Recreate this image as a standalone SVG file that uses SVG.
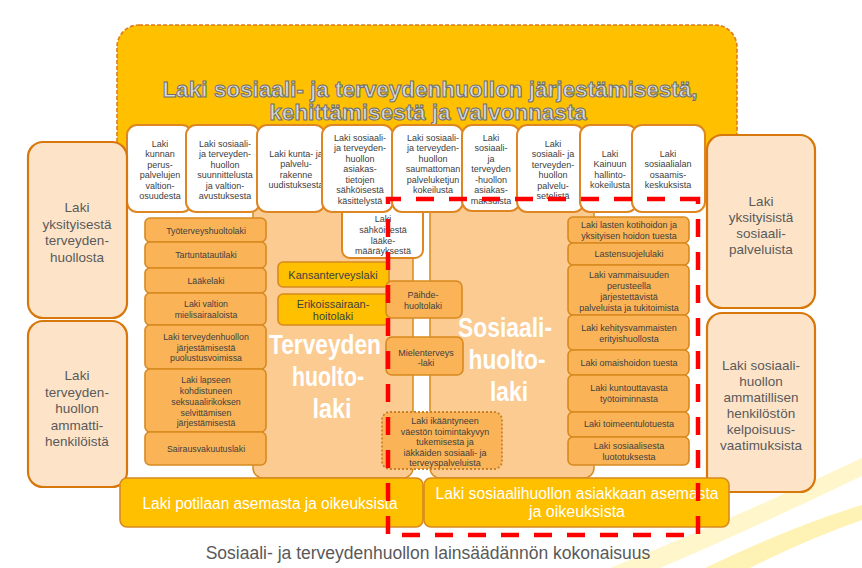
<svg xmlns="http://www.w3.org/2000/svg" width="862" height="568" viewBox="0 0 862 568">
<style>
text{font-family:"Liberation Sans",Arial,sans-serif;text-anchor:middle}
.wb{fill:#fff;stroke:#DE8722;stroke-width:2}
.sb{fill:#FDE4C9;stroke:#D6780C;stroke-width:2.2}
.pb{fill:#FBCB92;stroke:#D8891F;stroke-width:1.5}
.lb{fill:#FAB457;stroke:#D8891F;stroke-width:1.6}
.yb{fill:#FFC000;stroke:#D8891F;stroke-width:1.6}
.t9{font-size:9px;fill:#404040}
.tl{font-size:8.8px;fill:#404040}
.ts{font-size:13.5px;fill:#5A5A5A}
.big{font-size:27.5px;font-weight:bold;fill:#fff}
.yt{font-size:16px;fill:#fff}
.title{font-size:22.5px;font-weight:bold;fill:#DADADA;stroke:#6E6E6E;stroke-width:1}
</style>
<rect width="862" height="568" fill="#fff"/>
<g id="swoosh">
<path d="M610,568 Q730,520 862,458 L862,476 Q745,532 660,568 Z" fill="#FFF6CC"/>
<path d="M705,568 Q795,525 862,505 L862,520 Q805,540 750,568 Z" fill="#FFF2B5"/>
</g>
<g id="main">
<rect x="117" y="25" width="620" height="175" rx="22" fill="#FFC000" stroke="#E07B1A" stroke-width="1.6" stroke-dasharray="4 2"/>
<text class="title" x="430" y="97">Laki sosiaali- ja terveydenhuollon järjestämisestä,</text>
<text class="title" x="428" y="120">kehittämisestä ja valvonnasta</text>
</g>
<g id="terveydenhuoltolaki">
<rect class="pb" x="253" y="200" width="160" height="278" rx="10"/>
<text class="big" x="325" y="354" font-size="26" textLength="112" lengthAdjust="spacingAndGlyphs">Terveyden</text>
<text class="big" x="328" y="386" textLength="72" lengthAdjust="spacingAndGlyphs">huolto-</text>
<text class="big" x="332" y="418" textLength="39" lengthAdjust="spacingAndGlyphs">laki</text>
</g>
<g id="sosiaalihuoltolaki">
<rect class="pb" x="430" y="200" width="164" height="278" rx="10"/>
<text class="big" x="505" y="337" textLength="94" lengthAdjust="spacingAndGlyphs">Sosiaali-</text>
<text class="big" x="507" y="369" textLength="77" lengthAdjust="spacingAndGlyphs">huolto-</text>
<text class="big" x="509" y="401" textLength="38" lengthAdjust="spacingAndGlyphs">laki</text>
</g>
<g id="laakemaarays">
<rect class="wb" x="342" y="205" width="81" height="53" rx="8"/>
<text class="t9" x="383" y="222">Laki</text>
<text class="t9" x="383" y="233">sähköisestä</text>
<text class="t9" x="383" y="244">lääke-</text>
<text class="t9" x="383" y="254">määräyksestä</text>
</g>
<g id="row">
<g id="w1"><rect class="wb" x="127" y="125" width="65" height="87" rx="10"/>
<text class="t9" x="160" y="146.5">Laki</text><text class="t9" x="160" y="157">kunnan</text><text class="t9" x="160" y="167.5">perus-</text><text class="t9" x="160" y="178">palvelujen</text><text class="t9" x="160" y="188.5">valtion-</text><text class="t9" x="160" y="199">osuudesta</text></g>
<g id="w2"><rect class="wb" x="186" y="125" width="74" height="87" rx="10"/>
<text class="t9" x="225" y="146.5">Laki sosiaali-</text><text class="t9" x="225" y="157">ja terveyden-</text><text class="t9" x="225" y="167.5">huollon</text><text class="t9" x="225" y="178">suunnittelusta</text><text class="t9" x="225" y="188.5">ja valtion-</text><text class="t9" x="225" y="199">avustuksesta</text></g>
<g id="w3"><rect class="wb" x="257" y="125" width="68" height="87" rx="10"/>
<text class="t9" x="296" y="156.5">Laki kunta- ja</text><text class="t9" x="296" y="167">palvelu-</text><text class="t9" x="296" y="177.5">rakenne</text><text class="t9" x="296" y="188">uudistuksesta</text></g>
<g id="w4"><rect class="wb" x="322" y="125" width="71" height="87" rx="10"/>
<text class="t9" x="360" y="140.5">Laki sosiaali-</text><text class="t9" x="360" y="151">ja terveyden-</text><text class="t9" x="360" y="161.5">huollon</text><text class="t9" x="360" y="172">asiakas-</text><text class="t9" x="360" y="182.5">tietojen</text><text class="t9" x="360" y="193">sähköisestä</text><text class="t9" x="360" y="203.5">käsittelystä</text></g>
<g id="w5"><rect class="wb" x="392" y="125" width="71" height="87" rx="10"/>
<text class="t9" x="433" y="140.5">Laki sosiaali-</text><text class="t9" x="433" y="151">ja terveyden-</text><text class="t9" x="433" y="161.5">huollon</text><text class="t9" x="433" y="172">saumattoman</text><text class="t9" x="433" y="182.5">palveluketjun</text><text class="t9" x="433" y="193">kokeilusta</text></g>
<g id="w6"><rect class="wb" x="462" y="125" width="58" height="86" rx="10"/>
<text class="t9" x="491" y="140.5">Laki</text><text class="t9" x="491" y="151">sosiaali-</text><text class="t9" x="491" y="161.5">ja</text><text class="t9" x="491" y="172">terveyden</text><text class="t9" x="491" y="182.5">-huollon</text><text class="t9" x="491" y="193">asiakas-</text><text class="t9" x="491" y="203.5">maksuista</text></g>
<g id="w7"><rect class="wb" x="517" y="125" width="67" height="87" rx="10"/>
<text class="t9" x="553" y="146.5">Laki</text><text class="t9" x="553" y="157">sosiaali- ja</text><text class="t9" x="553" y="167.5">terveyden-</text><text class="t9" x="553" y="178">huollon</text><text class="t9" x="553" y="188.5">palvelu-</text><text class="t9" x="553" y="199">setelistä</text></g>
<g id="w8"><rect class="wb" x="580" y="125" width="57" height="87" rx="10"/>
<text class="t9" x="610" y="156.5">Laki</text><text class="t9" x="610" y="167">Kainuun</text><text class="t9" x="610" y="177.5">hallinto-</text><text class="t9" x="610" y="188">kokeilusta</text></g>
<g id="w9"><rect class="wb" x="632" y="125" width="73" height="87" rx="10"/>
<text class="t9" x="668" y="156.5">Laki</text><text class="t9" x="668" y="167">sosiaalialan</text><text class="t9" x="668" y="177.5">osaamis-</text><text class="t9" x="668" y="188">keskuksista</text></g>
</g>
<g id="sideA"><rect class="sb" x="28" y="142" width="99" height="176" rx="15"/>
<text class="ts" x="77" y="212">Laki</text><text class="ts" x="77" y="228.5">yksityisestä</text><text class="ts" x="77" y="245">terveyden-</text><text class="ts" x="77" y="261.5">huollosta</text></g>
<g id="sideB"><rect class="sb" x="28" y="321" width="99" height="166" rx="15"/>
<text class="ts" x="77" y="380">Laki</text><text class="ts" x="77" y="396.5">terveyden-</text><text class="ts" x="77" y="413">huollon</text><text class="ts" x="77" y="429.5">ammatti-</text><text class="ts" x="77" y="446">henkilöistä</text></g>
<g id="sideC"><rect class="sb" x="707" y="135" width="108" height="173" rx="15"/>
<text class="ts" x="761" y="206">Laki</text><text class="ts" x="761" y="222">yksityisistä</text><text class="ts" x="761" y="238">sosiaali-</text><text class="ts" x="761" y="254">palveluista</text></g>
<g id="sideD"><rect class="sb" x="707" y="313" width="108" height="179" rx="15"/>
<text class="ts" x="761" y="370">Laki sosiaali-</text><text class="ts" x="761" y="386">huollon</text><text class="ts" x="761" y="402">ammatillisen</text><text class="ts" x="761" y="418">henkilöstön</text><text class="ts" x="761" y="434">kelpoisuus-</text><text class="ts" x="761" y="450">vaatimuksista</text></g>
<g id="leftlist">
<g id="l1"><rect class="lb" x="145" y="218" width="121" height="24" rx="5"/><text class="tl" x="206" y="234">Työterveyshuoltolaki</text></g>
<g id="l2"><rect class="lb" x="145" y="242" width="121" height="26" rx="5"/><text class="tl" x="206" y="258">Tartuntatautilaki</text></g>
<g id="l3"><rect class="lb" x="145" y="268" width="121" height="25" rx="5"/><text class="tl" x="206" y="284">Lääkelaki</text></g>
<g id="l4"><rect class="lb" x="145" y="293" width="121" height="32" rx="5"/><text class="tl" x="206" y="307">Laki valtion</text><text class="tl" x="206" y="318">mielisairaaloista</text></g>
<g id="l5"><rect class="lb" x="145" y="325" width="121" height="44" rx="5"/><text class="tl" x="206" y="340">Laki terveydenhuollon</text><text class="tl" x="206" y="350.5">järjestämisestä</text><text class="tl" x="206" y="361">puolustusvoimissa</text></g>
<g id="l6"><rect class="lb" x="145" y="369" width="121" height="63" rx="5"/><text class="tl" x="206" y="383">Laki lapseen</text><text class="tl" x="206" y="394">kohdistuneen</text><text class="tl" x="206" y="405">seksuaalirikoksen</text><text class="tl" x="206" y="415.5">selvittämisen</text><text class="tl" x="206" y="426">järjestämisestä</text></g>
<g id="l7"><rect class="lb" x="145" y="432" width="121" height="33" rx="5"/><text class="tl" x="206" y="452">Sairausvakuutuslaki</text></g>
</g>
<g id="rightlist">
<g id="r1"><rect class="lb" x="568" y="217" width="121" height="26" rx="5"/><text class="t9" x="629" y="228">Laki lasten kotihoidon ja</text><text class="t9" x="629" y="239">yksityisen hoidon tuesta</text></g>
<g id="r2"><rect class="lb" x="568" y="243" width="121" height="22" rx="5"/><text class="t9" x="629" y="257">Lastensuojelulaki</text></g>
<g id="r3"><rect class="lb" x="568" y="265" width="121" height="50" rx="5"/><text class="t9" x="629" y="278">Laki vammaisuuden</text><text class="t9" x="629" y="289">perusteella</text><text class="t9" x="629" y="300">järjestettävistä</text><text class="t9" x="629" y="310.5">palveluista ja tukitoimista</text></g>
<g id="r4"><rect class="lb" x="568" y="315" width="121" height="35" rx="5"/><text class="t9" x="629" y="331">Laki kehitysvammaisten</text><text class="t9" x="629" y="341.5">erityishuollosta</text></g>
<g id="r5"><rect class="lb" x="568" y="350" width="121" height="25" rx="5"/><text class="t9" x="629" y="366">Laki omaishoidon tuesta</text></g>
<g id="r6"><rect class="lb" x="568" y="375" width="121" height="37" rx="5"/><text class="t9" x="629" y="391">Laki kuntouttavasta</text><text class="t9" x="629" y="402">työtoiminnasta</text></g>
<g id="r7"><rect class="lb" x="568" y="412" width="121" height="25" rx="5"/><text class="t9" x="629" y="427">Laki toimeentulotuesta</text></g>
<g id="r8"><rect class="lb" x="568" y="437" width="121" height="28" rx="5"/><text class="t9" x="629" y="449">Laki sosiaalisesta</text><text class="t9" x="629" y="460">luototuksesta</text></g>
</g>
<g id="kansanterveyslaki"><rect class="yb" x="278" y="262" width="111" height="25" rx="5"/><text x="333" y="279" font-size="11" fill="#404040">Kansanterveyslaki</text></g>
<g id="erikoissairaanhoitolaki"><rect class="yb" x="278" y="294" width="111" height="31" rx="5"/><text x="333" y="308" font-size="11" fill="#404040">Erikoissairaan-</text><text x="333" y="320" font-size="11" fill="#404040">hoitolaki</text></g>
<g id="paihde"><rect class="lb" x="386" y="281" width="76" height="37" rx="6"/><text class="t9" x="423" y="298">Päihde-</text><text class="t9" x="423" y="308.5">huoltolaki</text></g>
<g id="mielenterveys"><rect class="lb" x="386" y="337" width="77" height="38" rx="6"/><text class="t9" x="426" y="356">Mielenterveys</text><text class="t9" x="426" y="366">-laki</text></g>
<g id="vanhuspalvelu"><rect x="382" y="412" width="120" height="57" rx="8" fill="#FAB457" stroke="#C4832A" stroke-width="1.8" stroke-dasharray="2 2"/>
<text class="t9" x="445" y="424">Laki ikääntyneen</text><text class="t9" x="445" y="434.5">väestön toimintakyvyn</text><text class="t9" x="445" y="445">tukemisesta ja</text><text class="t9" x="445" y="455.5">iäkkäiden sosiaali- ja</text><text class="t9" x="445" y="466">terveyspalveluista</text></g>
<g id="potilas"><rect class="yb" x="120" y="478" width="303" height="49" rx="7"/><text class="yt" x="270" y="509" textLength="255" lengthAdjust="spacingAndGlyphs">Laki potilaan asemasta ja oikeuksista</text></g>
<g id="asiakas"><rect class="yb" x="424" y="478" width="305" height="49" rx="7"/><text class="yt" x="577" y="499" textLength="283" lengthAdjust="spacingAndGlyphs">Laki sosiaalihuollon asiakkaan asemasta</text><text class="yt" x="577" y="517">ja oikeuksista</text></g>
<g id="connectors">
<path d="M698,199 H388 V535 H698 Z" fill="none" stroke="#FF0000" stroke-width="4.5" stroke-dasharray="18 15"/>
</g>
<text x="428" y="559" font-size="17.5" fill="#595959">Sosiaali- ja terveydenhuollon lainsäädännön kokonaisuus</text>
</svg>
